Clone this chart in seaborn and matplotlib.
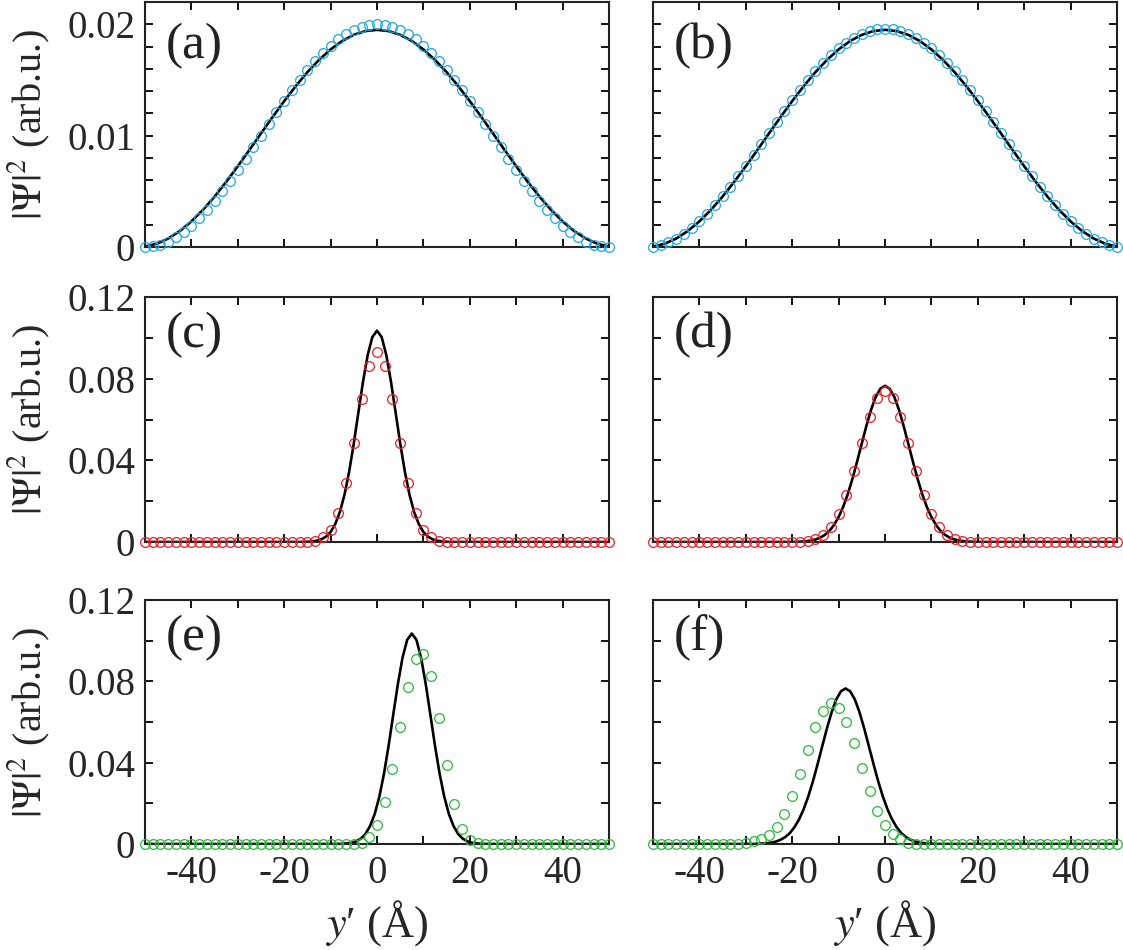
import numpy as np
import matplotlib
matplotlib.use("Agg")
import matplotlib.pyplot as plt
from matplotlib import font_manager as fm
import seaborn as sns

# ---------------- data ----------------
x_dots = np.linspace(-50, 50, 61)

dots_a = [0, 0.00005, 0.00022, 0.00049, 0.00086, 0.00134, 0.00191, 0.00257, 0.00331, 0.00412,
          0.00500, 0.00593, 0.00691, 0.00792, 0.00895, 0.01000, 0.01105, 0.01208, 0.01309, 0.01407,
          0.01500, 0.01588, 0.01669, 0.01743, 0.01809, 0.01866, 0.01914, 0.01951, 0.01978, 0.01995,
          0.02000,
          0.01995, 0.01978, 0.01951, 0.01914, 0.01866, 0.01809, 0.01743, 0.01669, 0.01588, 0.01500,
          0.01407, 0.01309, 0.01208, 0.01105, 0.01000, 0.00895, 0.00792, 0.00691, 0.00593, 0.00500,
          0.00412, 0.00331, 0.00257, 0.00191, 0.00134, 0.00086, 0.00049, 0.00022, 0.00005, 0]

dots_b = [0.00004, 0.00018, 0.00042, 0.00076, 0.00119, 0.00171, 0.00231, 0.00299, 0.00375, 0.00456,
          0.00543, 0.00634, 0.00728, 0.00826, 0.00925, 0.01025, 0.01125, 0.01222, 0.01317, 0.01408,
          0.01496, 0.01578, 0.01653, 0.01722, 0.01783, 0.01836, 0.01880, 0.01915, 0.01940, 0.01955,
          0.01960,
          0.01955, 0.01940, 0.01915, 0.01880, 0.01836, 0.01783, 0.01722, 0.01653, 0.01578, 0.01496,
          0.01408, 0.01317, 0.01222, 0.01125, 0.01025, 0.00925, 0.00826, 0.00728, 0.00634, 0.00543,
          0.00456, 0.00375, 0.00299, 0.00231, 0.00171, 0.00119, 0.00076, 0.00042, 0.00018, 0.00004]

dots_c = [0, 0, 0, 0, 0, 0, 0, 0, 0, 0, 0, 0, 0, 0, 0, 0, 0, 0, 0, 0, 0, 0,
          0.0005, 0.0023, 0.0059, 0.0140, 0.0287, 0.0483, 0.0699, 0.0863, 0.0929,
          0.0863, 0.0699, 0.0483, 0.0287, 0.0140, 0.0059, 0.0023, 0.0005,
          0, 0, 0, 0, 0, 0, 0, 0, 0, 0, 0, 0, 0, 0, 0, 0, 0, 0, 0, 0, 0, 0]

dots_d = [0, 0, 0, 0, 0, 0, 0, 0, 0, 0, 0, 0, 0, 0, 0, 0, 0, 0, 0, 0,
          0.0004, 0.0013, 0.0034, 0.0075, 0.0135, 0.0230, 0.0349, 0.0483, 0.0614, 0.0704, 0.0739,
          0.0704, 0.0614, 0.0483, 0.0349, 0.0230, 0.0135, 0.0075, 0.0034, 0.0013, 0.0004,
          0, 0, 0, 0, 0, 0, 0, 0, 0, 0, 0, 0, 0, 0, 0, 0, 0, 0, 0, 0]

dots_e = [0, 0, 0, 0, 0, 0, 0, 0, 0, 0, 0, 0, 0, 0, 0, 0, 0, 0, 0, 0, 0, 0, 0, 0, 0, 0, 0,
          0.0002, 0.0007, 0.0036, 0.0095, 0.0205, 0.0367, 0.0574, 0.0774, 0.0912, 0.0935,
          0.0825, 0.0618, 0.0389, 0.0195, 0.0074, 0.0020, 0.0003,
          0, 0, 0, 0, 0, 0, 0, 0, 0, 0, 0, 0, 0, 0, 0, 0, 0]

dots_f = [0, 0, 0, 0, 0, 0, 0, 0, 0, 0, 0, 0,
          0.0003, 0.0016, 0.0026, 0.0044, 0.0085, 0.0148, 0.0234, 0.0343, 0.0461, 0.0574,
          0.0654, 0.0692, 0.0671, 0.0600, 0.0495, 0.0372, 0.0261, 0.0164, 0.0093, 0.0048,
          0.0023, 0.0007, 0.0001,
          0, 0, 0, 0, 0, 0, 0, 0, 0, 0, 0, 0, 0, 0, 0, 0, 0, 0, 0, 0, 0, 0, 0, 0, 0, 0]

# solid (black) curves
line_ab_x = np.linspace(-50, 50, 41)
line_ab_y = [0.00004, 0.00029, 0.00076, 0.00143, 0.00230, 0.00334, 0.00453, 0.00585, 0.00725, 0.00871,
             0.01020, 0.01167, 0.01310, 0.01445, 0.01570, 0.01680, 0.01774, 0.01850, 0.01905, 0.01939,
             0.01950,
             0.01939, 0.01905, 0.01850, 0.01774, 0.01680, 0.01570, 0.01445, 0.01310, 0.01167, 0.01020,
             0.00871, 0.00725, 0.00585, 0.00453, 0.00334, 0.00230, 0.00143, 0.00076, 0.00029, 0.00004]

line_c_x = np.r_[-50, np.arange(-16, 17), 50]
line_c_y = [0, 0.0, 0.0001, 0.0003, 0.0006, 0.0013, 0.0026, 0.0049, 0.0088, 0.0147, 0.0232, 0.0345,
            0.0483, 0.0636, 0.0787, 0.0916, 0.1004, 0.1035, 0.1004, 0.0916, 0.0787, 0.0636, 0.0483,
            0.0345, 0.0232, 0.0147, 0.0088, 0.0049, 0.0026, 0.0013, 0.0006, 0.0003, 0.0001, 0.0, 0]

line_e_x = np.r_[-50, np.arange(-8.5, 24), 50]
line_e_y = [0, 0.0, 0.0001, 0.0003, 0.0006, 0.0013, 0.0026, 0.0049, 0.0088, 0.0147, 0.0232, 0.0345,
            0.0483, 0.0636, 0.0787, 0.0916, 0.1004, 0.1035, 0.1004, 0.0916, 0.0787, 0.0636, 0.0483,
            0.0345, 0.0232, 0.0147, 0.0088, 0.0049, 0.0026, 0.0013, 0.0006, 0.0003, 0.0001, 0.0, 0]

line_d_x = np.r_[-50, np.arange(-20, 21), 50]
line_d_y = [0, 0.0000, 0.0001, 0.0002, 0.0004, 0.0007, 0.0012, 0.0021, 0.0034, 0.0054, 0.0083,
            0.0122, 0.0173, 0.0236, 0.0311, 0.0395, 0.0483, 0.0570, 0.0648, 0.0711, 0.0751, 0.0765,
            0.0751, 0.0711, 0.0648, 0.0570, 0.0483, 0.0395, 0.0311, 0.0236, 0.0173, 0.0122,
            0.0083, 0.0054, 0.0034, 0.0021, 0.0012, 0.0007, 0.0004, 0.0002, 0.0001, 0.0000, 0]

line_f_x = np.r_[-50, np.arange(-28.5, 12), 50]
line_f_y = [0, 0.0000, 0.0001, 0.0002, 0.0004, 0.0007, 0.0012, 0.0021, 0.0034, 0.0054, 0.0083,
            0.0122, 0.0173, 0.0236, 0.0311, 0.0395, 0.0483, 0.0570, 0.0648, 0.0711, 0.0751, 0.0765,
            0.0751, 0.0711, 0.0648, 0.0570, 0.0483, 0.0395, 0.0311, 0.0236, 0.0173, 0.0122,
            0.0083, 0.0054, 0.0034, 0.0021, 0.0012, 0.0007, 0.0004, 0.0002, 0.0001, 0.0000, 0]

panel_labels = ["(a)", "(b)", "(c)", "(d)", "(e)", "(f)"]
xticks_major = [-40, -20, 0, 20, 40]
xticks_labels = ["-40", "-20", "0", "20", "40"]
xticks_minor = [-30, -10, 10, 30]
yticks_top = [0, 0.01, 0.02]
yticks_top_labels = ["0", "0.01", "0.02"]
yticks_top_minor = [0.002, 0.004, 0.006, 0.008, 0.012, 0.014, 0.016, 0.018]
yticks_low = [0, 0.04, 0.08, 0.12]
yticks_low_labels = ["0", "0.04", "0.08", "0.12"]
yticks_low_minor = [0.02, 0.06, 0.10]

c_blue = "#22A7E0"
c_red = "#EE1C25"
c_green = "#2DB83D"

# ---------------- style ----------------
sns.set_theme(style="ticks")
available = {f.name for f in fm.fontManager.ttflist}
serif_pick = "DejaVu Serif"
for cand in ["Liberation Serif", "Times New Roman", "Nimbus Roman", "TeX Gyre Termes",
             "Noto Serif", "DejaVu Serif"]:
    if cand in available:
        serif_pick = cand
        break
plt.rcParams["font.family"] = [serif_pick, "DejaVu Serif"]
plt.rcParams["mathtext.fontset"] = "stix"
plt.rcParams["axes.unicode_minus"] = False

fig = plt.figure(figsize=(11.23, 9.5), dpi=100)
W, H = 1123.0, 950.0
col_left = [145, 653]
ax_w = 464
rows = [(2, 247), (297, 542), (600, 844)]

panels = [
    (dots_a, c_blue, line_ab_x, line_ab_y),
    (dots_b, c_blue, line_ab_x, line_ab_y),
    (dots_c, c_red, line_c_x, line_c_y),
    (dots_d, c_red, line_d_x, line_d_y),
    (dots_e, c_green, line_e_x, line_e_y),
    (dots_f, c_green, line_f_x, line_f_y),
]

for idx, (dots, col, lx, ly) in enumerate(panels):
    r, cidx = divmod(idx, 2)
    top, bot = rows[r]
    ax = fig.add_axes([col_left[cidx] / W, 1 - bot / H, ax_w / W, (bot - top) / H])
    sns.lineplot(x=lx, y=ly, ax=ax, color="black", lw=1.9, legend=False, zorder=2,
                 sort=False, estimator=None)
    sns.lineplot(x=x_dots, y=dots, ax=ax, linestyle="", marker="o", markersize=7,
                 markerfacecolor="none", markeredgecolor=col, markeredgewidth=0.9,
                 color=col, legend=False, zorder=3, clip_on=False,
                 sort=False, estimator=None)
    ax.set_xlim(-50, 50)
    if r == 0:
        ax.set_ylim(0, 0.022)
        ax.set_yticks(yticks_top)
        ax.set_yticks(yticks_top_minor, minor=True)
        ax.set_yticklabels(yticks_top_labels if cidx == 0 else [])
    else:
        ax.set_ylim(0, 0.12)
        ax.set_yticks(yticks_low)
        ax.set_yticks(yticks_low_minor, minor=True)
        ax.set_yticklabels(yticks_low_labels if cidx == 0 else [])
    ax.set_xticks(xticks_major)
    ax.set_xticks(xticks_minor, minor=True)
    ax.set_xticklabels(xticks_labels if r == 2 else [])
    ax.tick_params(which="both", direction="in", top=True, right=True,
                   length=6, width=1.3, color="black")
    ax.tick_params(axis="x", which="major", pad=8, labelsize=28)
    ax.tick_params(axis="y", which="major", pad=7, labelsize=28)
    for s in ax.spines.values():
        s.set_linewidth(1.5)
        s.set_color("#222222")
    ax.set_xlabel("")
    ax.set_ylabel("")
    if cidx == 0:
        ax.set_ylabel(r"$|\Psi|^2$ (arb.u.)", fontsize=29)
        ax.yaxis.set_label_coords(-0.2, 0.5)
    if r == 2:
        ax.set_xlabel(r"$y$′ (Å)", fontsize=32)
        ax.xaxis.set_label_coords(0.5, -0.22)
    ly_pos = 0.82 if r == 0 else 0.845
    ax.text(0.045, ly_pos, panel_labels[idx], transform=ax.transAxes,
            fontsize=37, ha="left", va="center", color="#222222")

fig.savefig("out.png", dpi=100)
